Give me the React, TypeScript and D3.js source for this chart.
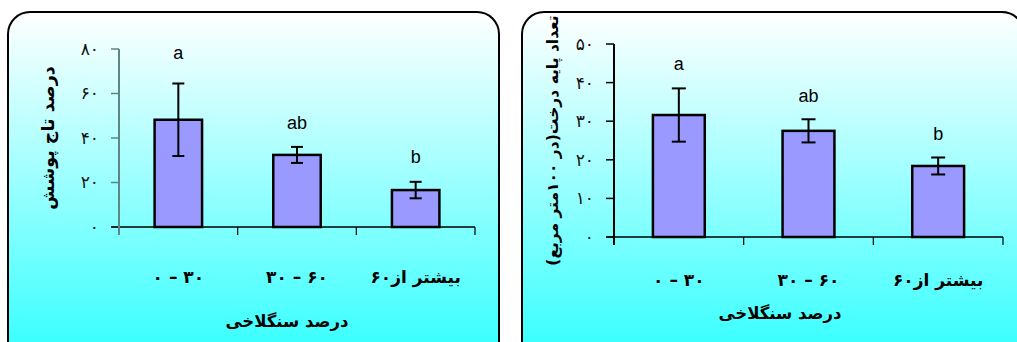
import React from 'react';
import * as d3 from 'd3';

// categories (stoniness classes)
const categories = ['۰ – ۳۰', '۳۰ – ۶۰', 'بیشتر از۶۰'];

// canopy cover (%)
const coverMean = [48.2, 32.4, 16.6];
const coverErr = [16.3, 3.6, 3.7];
const coverLetters = ['a', 'ab', 'b'];
const coverLetterAt = [75.5, 44, 28.8];
const coverTicks = [0, 20, 40, 60, 80];

// stems per 100 m2
const stemMean = [31.6, 27.5, 18.4];
const stemErr = [6.9, 3.0, 2.2];
const stemLetters = ['a', 'ab', 'b'];
const stemLetterAt = [43.3, 35, 25.1];
const stemTicks = [0, 10, 20, 30, 40, 50];

const fa = (n: number) => String(n).replace(/\d/g, d => '۰۱۲۳۴۵۶۷۸۹'[+d]);
const hasLetters = (s: string) => /[\u0621-\u064A\u067E-\u06CC]/.test(s);
// keep number ranges in the order they are written
const ltr = (s: string) => (hasLetters(s) ? s : '\u202D' + s + '\u202C');

const persianFont = '"DejaVu Sans", sans-serif';

type PanelProps = {
  id: string;
  box: { x: number; y: number; w: number; h: number };
  plot: { left: number; right: number; top: number; bottom: number };
  means: number[];
  errs: number[];
  letters: string[];
  letterAt: number[];
  ticks: number[];
  yTitle: string;
  yTitleX: number;
  yTitleSize: number;
  xTitleX: number;
  xTitleY: number;
  labelY: number;
  yAxisColor: string;
  cap: number;
};

const Panel = (p: PanelProps) => {
  const x = d3.scaleBand<string>()
    .domain(categories)
    .range([p.plot.left, p.plot.right])
    .paddingInner(0.6)
    .paddingOuter(0.3);
  const bandStep = (p.plot.right - p.plot.left) / categories.length;
  const y = d3.scaleLinear()
    .domain([0, d3.max(p.ticks) as number])
    .range([p.plot.bottom, p.plot.top]);

  return (
    <g>
      <defs>
        <linearGradient id={`bg-${p.id}`} x1="0" y1="0" x2="0" y2="1">
          <stop offset="0" stopColor="#ffffff" />
          <stop offset="1" stopColor="#2cffff" />
        </linearGradient>
      </defs>
      <rect x={p.box.x} y={p.box.y} width={p.box.w} height={p.box.h} rx={22}
        fill={`url(#bg-${p.id})`} stroke="#000" strokeWidth={2} />

      {/* y axis ticks + labels */}
      {p.ticks.map(t => (
        <g key={t}>
          <line x1={p.plot.left - 8} x2={p.plot.left} y1={y(t)} y2={y(t)} stroke={p.yAxisColor} strokeWidth={1.5} />
          <text x={p.plot.left - 20} y={y(t)} dy="0.35em" textAnchor="end"
            style={{ direction: 'ltr', unicodeBidi: 'bidi-override' }}
            fontFamily={persianFont} fontSize={17} fill="#111">{fa(t)}</text>
        </g>
      ))}

      {/* bars */}
      {categories.map((c, i) => {
        const bx = x(c) as number;
        const cx = bx + x.bandwidth() / 2;
        const top = y(p.means[i] + p.errs[i]);
        const bot = y(p.means[i] - p.errs[i]);
        return (
          <g key={c}>
            <rect x={bx} y={y(p.means[i])} width={x.bandwidth()} height={y(0) - y(p.means[i])}
              fill="#9999ff" stroke="#000" strokeWidth={2.5} />
            <line x1={cx} x2={cx} y1={top} y2={bot} stroke="#000" strokeWidth={2} />
            <line x1={cx - p.cap} x2={cx + p.cap} y1={top} y2={top} stroke="#000" strokeWidth={2} />
            <line x1={cx - p.cap} x2={cx + p.cap} y1={bot} y2={bot} stroke="#000" strokeWidth={2} />
            <text x={cx} y={y(p.letterAt[i])} textAnchor="middle"
              fontFamily='"Liberation Sans", Arial, sans-serif' fontSize={18} fill="#000">{p.letters[i]}</text>
            <text x={p.plot.left + bandStep * (i + 0.5)} y={p.labelY} dy="0.35em" textAnchor="middle"
              style={hasLetters(c) ? undefined : { direction: 'ltr', unicodeBidi: 'bidi-override' }}
              fontFamily={persianFont} fontWeight="bold" fontSize={17} fill="#000">{ltr(c)}</text>
          </g>
        );
      })}

      {/* x axis */}
      <line x1={p.plot.left - 8} x2={p.plot.right} y1={y(0)} y2={y(0)} stroke="#000" strokeWidth={1.5} />
      {d3.range(categories.length + 1).map(k => (
        <line key={k} x1={p.plot.left + bandStep * k} x2={p.plot.left + bandStep * k}
          y1={y(0)} y2={y(0) + 8} stroke="#000" strokeWidth={1.2} />
      ))}
      {/* y axis line */}
      <line x1={p.plot.left} x2={p.plot.left} y1={p.plot.top} y2={y(0) + 8} stroke={p.yAxisColor} strokeWidth={2} />

      {/* titles */}
      <text transform={`translate(${p.yTitleX},${(p.plot.top + p.plot.bottom) / 2}) rotate(-90)`}
        textAnchor="middle" dy="0.35em" fontFamily={persianFont} fontWeight="bold" fontSize={p.yTitleSize} fill="#000">
        {p.yTitle}
      </text>
      <text x={p.xTitleX} y={p.xTitleY} dy="0.35em" textAnchor="middle"
        fontFamily={persianFont} fontWeight="bold" fontSize={16.5} fill="#000">درصد سنگلاخی</text>
    </g>
  );
};

export default function App() {
  return (
    <svg width={1017} height={342} style={{ position: 'absolute', left: 0, top: 0, display: 'block' }}>
      <rect width={1017} height={342} fill="#fff" />
      <Panel id="l"
        box={{ x: 8, y: 12, w: 491, h: 360 }}
        plot={{ left: 119, right: 475, top: 49, bottom: 227 }}
        means={coverMean} errs={coverErr} letters={coverLetters} letterAt={coverLetterAt}
        ticks={coverTicks} yTitle="درصد تاج پوشش" yTitleX={48} yTitleSize={17.5}
        xTitleX={287} xTitleY={321} labelY={277} yAxisColor="#5f8585" cap={6} />
      <Panel id="r"
        box={{ x: 522, y: 12, w: 502, h: 360 }}
        plot={{ left: 614, right: 1003, top: 44, bottom: 237 }}
        means={stemMean} errs={stemErr} letters={stemLetters} letterAt={stemLetterAt}
        ticks={stemTicks} yTitle="تعداد پایه درخت(در ۱۰۰متر مربع)" yTitleX={553} yTitleSize={15.5}
        xTitleX={780} xTitleY={313} labelY={280} yAxisColor="#000" cap={7} />
    </svg>
  );
}
